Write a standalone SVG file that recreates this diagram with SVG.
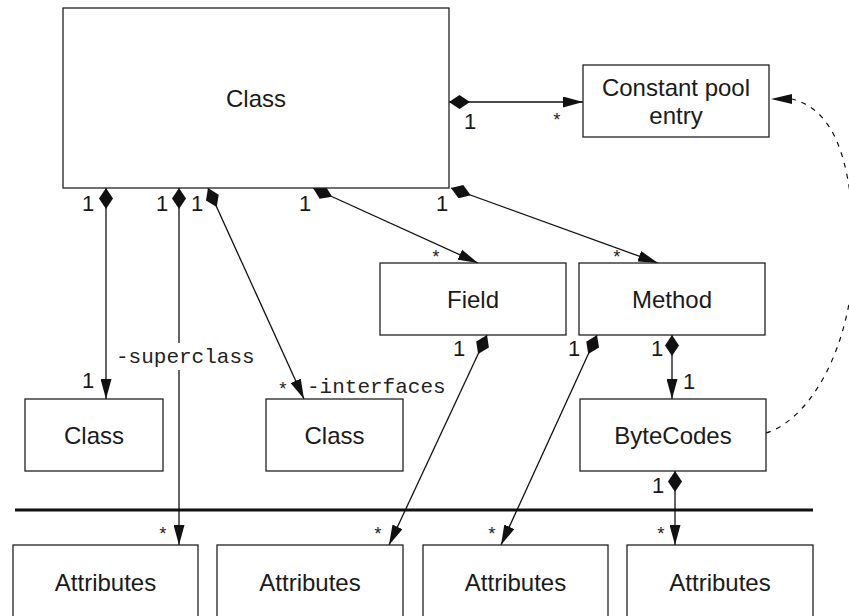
<svg xmlns="http://www.w3.org/2000/svg" width="849" height="616" viewBox="0 0 849 616">
  <defs>
    <style>
      .box { fill: #fff; stroke: #222; stroke-width: 1.3; }
      .name { font-family: "Liberation Sans", Arial, sans-serif; font-size: 24px; fill: #1a1a1a; text-anchor: middle; }
      .mult { font-family: "Liberation Sans", Arial, sans-serif; font-size: 22px; fill: #1a1a1a; text-anchor: middle; }
      .star { font-family: "Liberation Mono", "Courier New", monospace; font-size: 18px; fill: #1a1a1a; text-anchor: middle; }
      .role { font-family: "Liberation Mono", "Courier New", monospace; font-size: 21px; fill: #222; }
      .link { fill: none; stroke: #111; stroke-width: 1.3; marker-start: url(#diamond); marker-end: url(#arrow); }
      .dep { fill: none; stroke: #111; stroke-width: 1.2; stroke-dasharray: 5 6; }
    </style>
    <marker id="arrow" markerUnits="userSpaceOnUse" markerWidth="20" markerHeight="11" refX="20" refY="5.5" orient="auto">
      <path d="M0,0 L20,5.5 L0,11 Z" fill="#111"/>
    </marker>
    <marker id="diamond" markerUnits="userSpaceOnUse" markerWidth="21" markerHeight="14" refX="0" refY="7" orient="auto">
      <path d="M0,7 L10.5,0 L21,7 L10.5,14 Z" fill="#111"/>
    </marker>
  </defs>

  <!-- separator between class-level and attribute-level structures -->
  <line x1="15" y1="510" x2="813" y2="510" stroke="#111" stroke-width="3"/>

  <g id="connectors">
    <!-- composition associations -->
    <path class="link" d="M449 102 H583"/>
    <path class="link" d="M106 188 V399"/>
    <path class="link" d="M179 188 V343 M179 370 V545"/>
    <path class="link" d="M208 188 L304 399"/>
    <path class="link" d="M313 188 L478 263"/>
    <path class="link" d="M451 188 L658 263"/>
    <path class="link" d="M487 335 L389 545"/>
    <path class="link" d="M597 335 L501 545"/>
    <path class="link" d="M672 335 V399"/>
    <path class="link" d="M675 471 V545"/>
    <!-- dependency: ByteCodes refer to constant pool entries -->
    <path class="dep" d="M766 433 C815 418, 862 330, 853 220 C848 160, 835 110, 792 99"/>
    <path d="M771 99 L792 94 L792 104 Z" fill="#111"/>

    <!-- multiplicities -->
    <text class="mult" x="470" y="129">1</text>
    <text class="star" x="557" y="126">*</text>
    <text class="mult" x="88" y="211">1</text>
    <text class="mult" x="162" y="211">1</text>
    <text class="mult" x="197" y="211">1</text>
    <text class="mult" x="305" y="211">1</text>
    <text class="mult" x="442" y="211">1</text>
    <text class="mult" x="88" y="388">1</text>
    <text class="star" x="283" y="395">*</text>
    <text class="star" x="436" y="263">*</text>
    <text class="star" x="617" y="263">*</text>
    <text class="mult" x="459" y="356">1</text>
    <text class="mult" x="574" y="356">1</text>
    <text class="mult" x="657" y="356">1</text>
    <text class="mult" x="689" y="389">1</text>
    <text class="mult" x="658" y="493">1</text>
    <text class="star" x="163" y="540">*</text>
    <text class="star" x="378" y="540">*</text>
    <text class="star" x="492" y="540">*</text>
    <text class="star" x="661" y="540">*</text>

    <!-- role names -->
    <text class="role" x="116" y="363">-superclass</text>
    <text class="role" x="307" y="393">-interfaces</text>
  </g>

  <g id="class-main">
    <rect class="box" x="63" y="8" width="386" height="180"/>
    <text class="name" x="256" y="107">Class</text>
  </g>
  <g id="constant-pool-entry">
    <rect class="box" x="583" y="65" width="186" height="72"/>
    <text class="name" x="676" y="96">Constant pool</text>
    <text class="name" x="676" y="124">entry</text>
  </g>
  <g id="field">
    <rect class="box" x="380" y="263" width="186" height="72"/>
    <text class="name" x="473" y="307.5">Field</text>
  </g>
  <g id="method">
    <rect class="box" x="579" y="263" width="186" height="72"/>
    <text class="name" x="672" y="307.5">Method</text>
  </g>
  <g id="superclass">
    <rect class="box" x="25" y="399" width="138" height="72"/>
    <text class="name" x="94" y="443.5">Class</text>
  </g>
  <g id="interfaces">
    <rect class="box" x="266" y="399" width="137" height="72"/>
    <text class="name" x="334.5" y="443.5">Class</text>
  </g>
  <g id="bytecodes">
    <rect class="box" x="580" y="399" width="186" height="72"/>
    <text class="name" x="673" y="443.5">ByteCodes</text>
  </g>
  <g id="attributes-class">
    <rect class="box" x="13" y="545" width="185" height="80"/>
    <text class="name" x="105.5" y="590.5">Attributes</text>
  </g>
  <g id="attributes-field">
    <rect class="box" x="217" y="545" width="186" height="80"/>
    <text class="name" x="310" y="590.5">Attributes</text>
  </g>
  <g id="attributes-method">
    <rect class="box" x="423" y="545" width="185" height="80"/>
    <text class="name" x="515.5" y="590.5">Attributes</text>
  </g>
  <g id="attributes-bytecodes">
    <rect class="box" x="627" y="545" width="186" height="80"/>
    <text class="name" x="720" y="590.5">Attributes</text>
  </g>
</svg>
